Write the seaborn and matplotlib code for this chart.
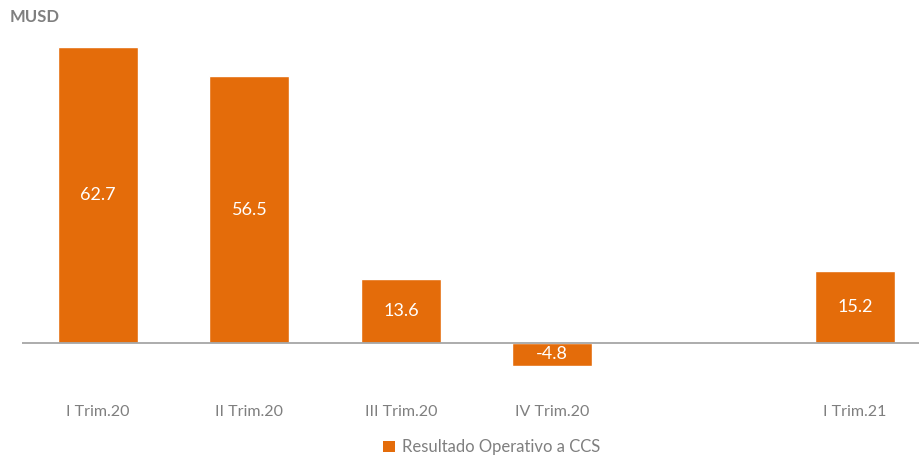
import seaborn as sns
import pandas as pd
import numpy as np
import matplotlib.pyplot as plt
from matplotlib.patches import Patch

# data
quarters = ["I Trim.20", "II Trim.20", "III Trim.20", "IV Trim.20", " ", "I Trim.21"]
values = [62.7, 56.5, 13.6, -4.8, np.nan, 15.2]
series_name = "Resultado Operativo a CCS"
unit = "MUSD"

bar_color = "#E46C0A"
text_gray = "#7F7F7F"

sns.set_style("white")
plt.rcParams['font.family'] = ['Lato', 'DejaVu Sans']

df = pd.DataFrame({"quarter": quarters, "value": values})

fig = plt.figure(figsize=(9.19, 4.61), dpi=100)
ax = fig.add_axes([0.0243, 0.1332, 0.9885, 0.7985])

sns.barplot(data=df, x="quarter", y="value", order=quarters, color=bar_color,
            saturation=1, width=0.528, ax=ax)

ax.set_ylim(-12, 66)
ax.set_xlim(-0.5, len(quarters) - 0.5)
ax.axhline(0, color="#A6A6A6", lw=1.3, zorder=3)

## white value labels in the middle of each bar
for i, v in enumerate(df["value"]):
    if np.isnan(v):
        continue
    ax.text(i, v / 2, "{:.1f}".format(v), ha="center", va="center",
            color="white", fontsize=13)

ax.set_xlabel("")
ax.set_ylabel("")
ax.set_yticks([])
ax.tick_params(axis="x", length=0, pad=4, labelsize=11.5, labelcolor=text_gray)
for s in ax.spines.values():
    s.set_visible(False)

fig.text(0.011, 0.963, unit, fontsize=12, fontweight="bold", color=text_gray,
         va="center", ha="left")

handles = [Patch(facecolor=bar_color, edgecolor="none", label=series_name)]
fig.legend(handles=handles, loc="center", bbox_to_anchor=(0.535, 0.03),
           frameon=False, fontsize=12, labelcolor=text_gray,
           handlelength=0.7, handleheight=0.7, handletextpad=0.4)

fig.savefig("out.png", dpi=100)
